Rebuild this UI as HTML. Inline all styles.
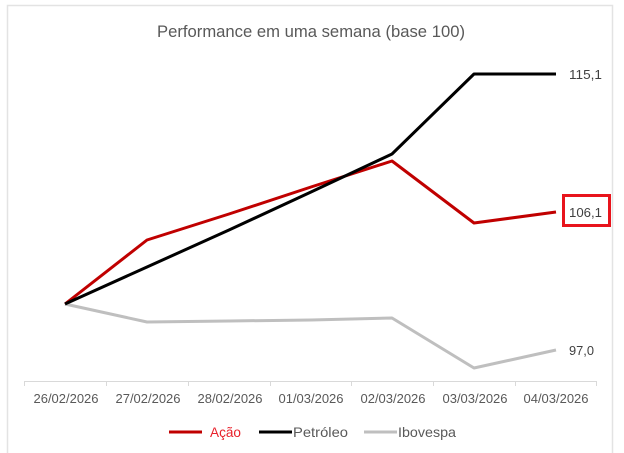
<!DOCTYPE html>
<html><head><meta charset="utf-8"><style>
html,body{margin:0;padding:0;background:#fff;}
svg{display:block;}
text{font-family:"Liberation Sans",sans-serif;}
</style></head><body>
<svg width="624" height="453" viewBox="0 0 624 453" xmlns="http://www.w3.org/2000/svg">
<rect x="0" y="0" width="624" height="453" fill="#fff"/>
<rect x="7.5" y="5.5" width="605" height="460" fill="#fff" stroke="#e3e3e3" stroke-width="1.5"/>
<text x="311" y="37" text-anchor="middle" font-size="17" fill="#595959" textLength="308" lengthAdjust="spacingAndGlyphs">Performance em uma semana (base 100)</text>
<!-- axis -->
<line x1="24" y1="381.5" x2="597" y2="381.5" stroke="#d9d9d9" stroke-width="1"/>
<g stroke="#d9d9d9" stroke-width="1">
<line x1="24.5" y1="381" x2="24.5" y2="386"/><line x1="106.5" y1="381" x2="106.5" y2="386"/><line x1="188.5" y1="381" x2="188.5" y2="386"/><line x1="270.5" y1="381" x2="270.5" y2="386"/><line x1="351.5" y1="381" x2="351.5" y2="386"/><line x1="433.5" y1="381" x2="433.5" y2="386"/><line x1="515.5" y1="381" x2="515.5" y2="386"/><line x1="596.5" y1="381" x2="596.5" y2="386"/>
</g>
<g font-size="12.5" fill="#595959" text-anchor="middle">
<text x="66" y="403" textLength="65" lengthAdjust="spacingAndGlyphs">26/02/2026</text>
<text x="148" y="403" textLength="65" lengthAdjust="spacingAndGlyphs">27/02/2026</text>
<text x="230" y="403" textLength="65" lengthAdjust="spacingAndGlyphs">28/02/2026</text>
<text x="311" y="403" textLength="65" lengthAdjust="spacingAndGlyphs">01/03/2026</text>
<text x="393" y="403" textLength="65" lengthAdjust="spacingAndGlyphs">02/03/2026</text>
<text x="475" y="403" textLength="65" lengthAdjust="spacingAndGlyphs">03/03/2026</text>
<text x="556" y="403" textLength="65" lengthAdjust="spacingAndGlyphs">04/03/2026</text>
</g>
<!-- series -->
<polyline points="65,304 147,322 229,321 311,320 392,318 474,368 556,350" fill="none" stroke="#bfbfbf" stroke-width="3" stroke-linejoin="round"/>
<polyline points="65,304 147,240 229,214 311,187 392,161 474,223 556,212" fill="none" stroke="#c00000" stroke-width="3" stroke-linejoin="round"/>
<polyline points="65,304 147,267 229,230 311,192 392,154 474,74 556,74" fill="none" stroke="#000" stroke-width="3" stroke-linejoin="round"/>
<!-- labels -->
<g font-size="13" fill="#404040">
<text x="569" y="79" textLength="33" lengthAdjust="spacingAndGlyphs">115,1</text>
<text x="569" y="217" textLength="33" lengthAdjust="spacingAndGlyphs">106,1</text>
<text x="569" y="355" textLength="25" lengthAdjust="spacingAndGlyphs">97,0</text>
</g>
<rect x="563.5" y="195.5" width="46" height="30" fill="none" stroke="#e8141c" stroke-width="3"/>
<!-- legend -->
<line x1="169" y1="432" x2="202" y2="432" stroke="#c00000" stroke-width="3"/>
<text x="210" y="437" font-size="14" fill="#e8202a" textLength="31" lengthAdjust="spacingAndGlyphs">Ação</text>
<line x1="259" y1="432" x2="292" y2="432" stroke="#000" stroke-width="3"/>
<text x="293" y="437" font-size="14" fill="#595959" textLength="55" lengthAdjust="spacingAndGlyphs">Petróleo</text>
<line x1="364" y1="432" x2="397" y2="432" stroke="#bfbfbf" stroke-width="3"/>
<text x="398" y="437" font-size="14" fill="#595959" textLength="58" lengthAdjust="spacingAndGlyphs">Ibovespa</text>
</svg>
</body></html>
